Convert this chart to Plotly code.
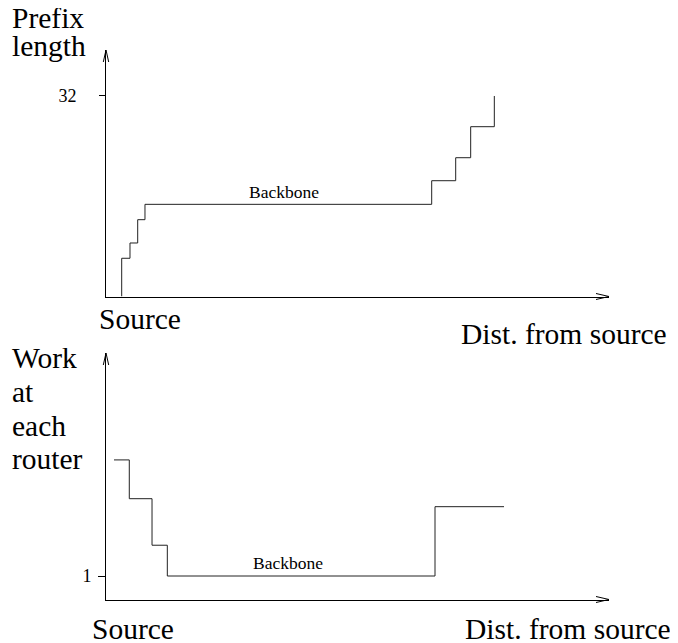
import plotly.graph_objects as go

W, H = 678, 643
OFF = 8  # page body margin of the html page

# ---- data ----
# top panel: prefix length vs distance from source (x in arbitrary distance units 0..100)
top_x = [3.12, 3.12, 4.77, 6.3, 7.75, 64.75, 69.52, 72.5, 77.2]
top_y = [0, 6.1, 8.54, 12.26, 14.71, 18.48, 22.15, 27.1, 32]
top_ticks = [32]
top_ticktext = ["32"]

# bottom panel: work at each router vs distance from source
bot_x = [1.59, 4.63, 9.15, 12.19, 65.41, 79.13]
bot_y = [5.94, 4.29, 2.31, 1, 3.95, 3.95]
bot_ticks = [1]
bot_ticktext = ["1"]

X_MAX = 100
TOP_Y_MAX = 39.34
BOT_Y_MAX = 10.49

FONT = "Liberation Serif"

# layout geometry in screen pixels
AX_L, AX_R = 106, 609
TOP_B, TOP_T = 296.5, 50
BOT_B, BOT_T = 599.5, 353


def px(x):
    return (x - OFF) / W


def py(y):
    return 1 - (y - OFF) / H


fig = go.Figure()
fig.add_trace(go.Scatter(x=top_x, y=top_y, mode="lines", line=dict(shape="hv", color="#222", width=1),
                         xaxis="x", yaxis="y", hoverinfo="skip"))
fig.add_trace(go.Scatter(x=bot_x, y=bot_y, mode="lines", line=dict(shape="hv", color="#222", width=1),
                         xaxis="x2", yaxis="y2", hoverinfo="skip"))

xdom = [px(AX_L), px(AX_R)]
axis_common = dict(showgrid=False, zeroline=False, showline=True, linecolor="black", linewidth=1)

fig.update_layout(
    width=W, height=H, autosize=False,
    margin=dict(l=0, r=0, t=0, b=0),
    paper_bgcolor="white", plot_bgcolor="white",
    showlegend=False,
    font=dict(family=FONT, color="black"),
    xaxis=dict(domain=xdom, range=[0, X_MAX], anchor="y", showticklabels=False, ticks="", **axis_common),
    yaxis=dict(domain=[py(TOP_B), py(TOP_T)], range=[0, TOP_Y_MAX], anchor="x",
               tickvals=top_ticks, ticktext=top_ticktext, ticks="outside", ticklen=6, tickcolor="black",
               tickfont=dict(family=FONT, size=18, color="black"), ticklabelstandoff=19, **axis_common),
    xaxis2=dict(domain=xdom, range=[0, X_MAX], anchor="y2", showticklabels=False, ticks="", **axis_common),
    yaxis2=dict(domain=[py(BOT_B), py(BOT_T)], range=[0, BOT_Y_MAX], anchor="x2",
                tickvals=bot_ticks, ticktext=bot_ticktext, ticks="outside", ticklen=7, tickcolor="black",
                tickfont=dict(family=FONT, size=18, color="black"), ticklabelstandoff=3, **axis_common),
)


def seg(x0, y0, x1, y1):
    fig.add_shape(type="line", xref="paper", yref="paper",
                  x0=px(x0), y0=py(y0), x1=px(x1), y1=py(y1),
                  line=dict(color="black", width=1))


# arrowheads at the axis ends
for base, top in [(TOP_B, TOP_T), (BOT_B, BOT_T)]:
    seg(AX_R - 13, base - 3, AX_R, base)
    seg(AX_R - 13, base + 3, AX_R, base)
    seg(AX_L - 2.7, top + 12, AX_L, top)
    seg(AX_L + 2.7, top + 12, AX_L, top)


def label(text, x, y, size=29.5):
    fig.add_annotation(text=text, x=px(x - 3), y=py(y), xref="paper", yref="paper",
                       xanchor="left", yanchor="middle", showarrow=False,
                       font=dict(family=FONT, size=size, color="black"))


label("Prefix", 13, 17.7)
label("length", 13, 46)
label("Source", 100, 319)
label("Dist. from source", 462, 334)
label("Work", 13, 357.7)
label("at", 13, 392)
label("each", 13, 426)
label("router", 13, 458.7)
label("Source", 93, 629)
label("Dist. from source", 466, 629)

fig.add_annotation(text="Backbone", x=35.3, y=16.72, xref="x", yref="y", showarrow=False,
                   xanchor="center", yanchor="middle", font=dict(family=FONT, size=17.5, color="black"))
fig.add_annotation(text="Backbone", x=36.2, y=1.55, xref="x2", yref="y2", showarrow=False,
                   xanchor="center", yanchor="middle", font=dict(family=FONT, size=17.5, color="black"))

fig.write_html("out.html")
